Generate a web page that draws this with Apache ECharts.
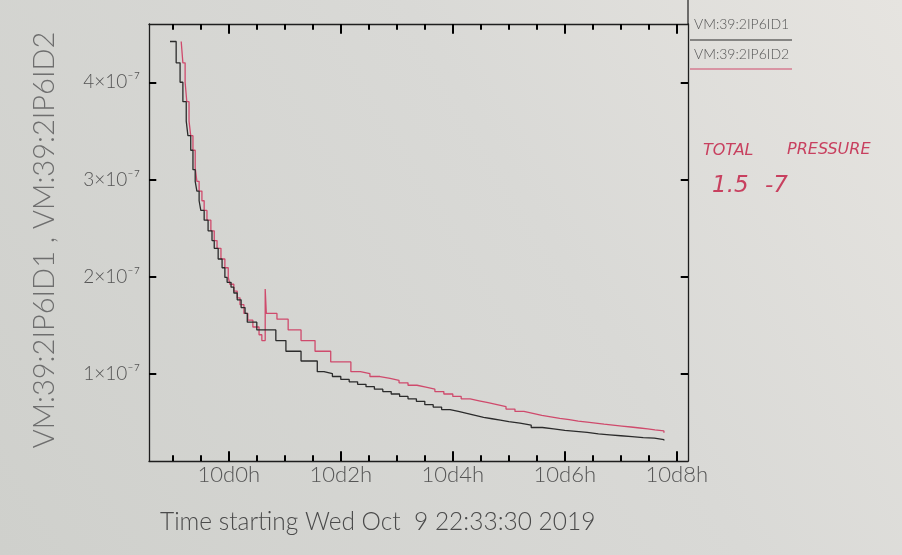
<!DOCTYPE html>
<html>
<head>
<meta charset="utf-8">
<script src="https://cdn.jsdelivr.net/npm/echarts@6/dist/echarts.min.js"></script>
<style>html,body{margin:0;padding:0;background:#d8d8d5;}#c{width:902px;height:555px;}</style>
</head>
<body>
<div id="c"></div>
<script>
// Time in hours relative to 2019-10-10 00:00 (axis starts Wed Oct 9 22:33:30)
// Pressure values in units of 1e-7
const seriesNames = ['VM:39:2IP6ID1', 'VM:39:2IP6ID2'];

const d1Hours = [-1.05,-0.94,-0.87,-0.82,-0.76,-0.73,-0.68,-0.64,-0.60,-0.57,-0.53,-0.50,-0.44,-0.37,-0.30,-0.26,-0.19,-0.12,-0.07,-0.03,0.04,0.09,0.15,0.22,0.29,0.33,0.50,0.84,1.02,1.29,1.58,1.70,1.85,2.00,2.15,2.30,2.45,2.60,2.75,2.90,3.05,3.20,3.35,3.50,3.65,3.80,3.95,4.10,4.25,4.40,4.55,4.70,4.85,5.00,5.20,5.40,5.60,5.80,6.00,6.20,6.40,6.60,6.80,7.00,7.20,7.40,7.60,7.77];
const d1Values = [4.42,4.20,4.00,3.80,3.60,3.45,3.30,3.10,2.98,2.88,2.78,2.68,2.58,2.47,2.37,2.29,2.18,2.09,1.99,1.94,1.89,1.83,1.76,1.68,1.62,1.53,1.45,1.34,1.23,1.13,1.02,1.00,0.97,0.94,0.915,0.89,0.865,0.84,0.815,0.79,0.765,0.74,0.715,0.68,0.655,0.63,0.61,0.59,0.57,0.55,0.535,0.52,0.505,0.49,0.47,0.445,0.43,0.415,0.405,0.395,0.38,0.37,0.36,0.35,0.34,0.335,0.32,0.31];

const d2Hours = [-0.85,-0.82,-0.78,-0.75,-0.71,-0.68,-0.64,-0.60,-0.57,-0.53,-0.48,-0.44,-0.39,-0.32,-0.26,-0.21,-0.14,-0.07,-0.01,0.02,0.09,0.15,0.20,0.27,0.34,0.43,0.54,0.59,0.65,0.67,0.86,1.06,1.29,1.54,1.82,2.18,2.35,2.52,2.70,2.88,3.04,3.20,3.36,3.52,3.68,3.84,4.00,4.15,4.31,4.47,4.63,4.79,4.95,5.11,5.27,5.43,5.59,5.75,5.91,6.08,6.24,6.40,6.55,6.70,6.86,7.02,7.18,7.34,7.48,7.61,7.77];
const d2Values = [4.42,4.20,4.00,3.80,3.60,3.45,3.30,3.12,2.98,2.88,2.78,2.68,2.58,2.47,2.37,2.29,2.18,2.09,1.99,1.92,1.85,1.78,1.71,1.62,1.55,1.48,1.40,1.34,1.87,1.62,1.56,1.45,1.34,1.23,1.12,1.02,1.00,0.97,0.95,0.93,0.905,0.88,0.86,0.84,0.815,0.79,0.765,0.74,0.72,0.70,0.68,0.66,0.635,0.61,0.59,0.57,0.555,0.54,0.525,0.51,0.50,0.49,0.48,0.47,0.46,0.45,0.44,0.43,0.42,0.41,0.39];

const xMajorTicks = [0, 2, 4, 6, 8];
const xMinorTicks = [-1,-0.5,0.5,1,1.5,2.5,3,3.5,4.5,5,5.5,6.5,7,7.5];
const yTicks = [1, 2, 3, 4];
const xTitle = 'Time starting Wed Oct  9 22:33:30 2019';
const yTitle = 'VM:39:2IP6ID1 , VM:39:2IP6ID2';

const X_MIN = -1.425, X_MAX = 8.2, Y_MIN = 0.1, Y_MAX = 4.6;
const axisCol = '#1e1e1e';
const labCol = '#555';
const FONT = 'Lato';

function pairs(h, v) { return h.map((t, i) => [t, v[i]]); }

const lineAxis = { show: true, onZero: false, lineStyle: { color: axisCol, width: 1.3 } };

// tick marks as short markLine segments in data coordinates (drawn by the library's scales)
const xTickLen = 0.1, xMinorLen = 0.06, yTickLen = 0.13;
function tickLines() {
  const segs = [];
  xMajorTicks.forEach(v => {
    segs.push([{ coord: [v, Y_MIN] }, { coord: [v, Y_MIN + xTickLen] }]);
    segs.push([{ coord: [v, Y_MAX] }, { coord: [v, Y_MAX - xTickLen] }]);
  });
  xMinorTicks.forEach(v => {
    segs.push([{ coord: [v, Y_MIN] }, { coord: [v, Y_MIN + xMinorLen] }]);
    segs.push([{ coord: [v, Y_MAX] }, { coord: [v, Y_MAX - xMinorLen] }]);
  });
  yTicks.forEach(v => {
    segs.push([{ coord: [X_MIN, v] }, { coord: [X_MIN + yTickLen, v] }]);
    segs.push([{ coord: [X_MAX, v] }, { coord: [X_MAX - yTickLen, v] }]);
  });
  return segs;
}

const staticGraphic = [
  { type: 'text', x: 45, y: 240, rotation: Math.PI / 2,
    style: { text: yTitle, fill: '#6e6e6e', fontFamily: FONT, fontWeight: 300, fontSize: 29, align: 'center', verticalAlign: 'middle' } },
  { type: 'text', x: 160, y: 522,
    style: { text: xTitle, fill: '#4a4a4a', fontFamily: FONT, fontWeight: 300, fontSize: 24.5, align: 'left', verticalAlign: 'middle' } },
  { type: 'line', shape: { x1: 688, y1: 0, x2: 688, y2: 24 }, style: { stroke: axisCol, lineWidth: 1.2 } },
  { type: 'text', x: 694, y: 24,
    style: { text: seriesNames[0], fill: '#555', fontFamily: FONT, fontWeight: 300, fontSize: 14, align: 'left', verticalAlign: 'middle' } },
  { type: 'line', shape: { x1: 690, y1: 40, x2: 792, y2: 40 }, style: { stroke: '#2b2b2b', lineWidth: 1.2 } },
  { type: 'text', x: 694, y: 54,
    style: { text: seriesNames[1], fill: '#555', fontFamily: FONT, fontWeight: 300, fontSize: 14, align: 'left', verticalAlign: 'middle' } },
  { type: 'line', shape: { x1: 690, y1: 69, x2: 792, y2: 69 }, style: { stroke: '#cf4a6c', lineWidth: 1.2 } },
  { type: 'text', x: 703, y: 151,
    style: { text: 'TOTAL', fill: '#c8405f', fontFamily: 'DejaVu Sans', fontStyle: 'italic', fontSize: 16, align: 'left', verticalAlign: 'middle' } },
  { type: 'text', x: 787, y: 150,
    style: { text: 'PRESSURE', fill: '#c8405f', fontFamily: 'DejaVu Sans', fontStyle: 'italic', fontSize: 16, align: 'left', verticalAlign: 'middle' } },
  { type: 'text', x: 712, y: 186,
    style: { text: '1.5', fill: '#c8405f', fontFamily: 'DejaVu Sans', fontStyle: 'italic', fontSize: 23, align: 'left', verticalAlign: 'middle' } },
  { type: 'text', x: 765, y: 186,
    style: { text: '-7', fill: '#c8405f', fontFamily: 'DejaVu Sans', fontStyle: 'italic', fontSize: 23, align: 'left', verticalAlign: 'middle' } }
];

const chart = echarts.init(document.getElementById('c'), null, { renderer: 'canvas' });
chart.setOption({
  animation: false,
  backgroundColor: {
    type: 'linear', x: 0, y: 1, x2: 1, y2: 0,
    colorStops: [{ offset: 0, color: '#cfd0cc' }, { offset: 0.6, color: '#d9d9d6' }, { offset: 1, color: '#e6e4e0' }]
  },
  grid: { left: 149, right: 214, top: 24, bottom: 94, containLabel: false, outerBoundsMode: 'none' },
  xAxis: [
    { type: 'value', position: 'bottom', min: X_MIN, max: X_MAX, axisLine: lineAxis, axisTick: { show: false }, splitLine: { show: false },
      axisLabel: { show: true, customValues: xMajorTicks, margin: 3, formatter: v => '10d' + v + 'h',
        color: labCol, fontFamily: FONT, fontWeight: 300, fontSize: 22 } },
    { type: 'value', position: 'top', min: X_MIN, max: X_MAX, axisLine: lineAxis, axisTick: { show: false }, splitLine: { show: false }, axisLabel: { show: false } }
  ],
  yAxis: [
    { type: 'value', position: 'left', min: Y_MIN, max: Y_MAX, axisLine: lineAxis, axisTick: { show: false }, splitLine: { show: false },
      axisLabel: { show: true, customValues: yTicks, margin: 9, formatter: v => v + '×10⁻⁷',
        color: labCol, fontFamily: FONT, fontWeight: 300, fontSize: 19 } },
    { type: 'value', position: 'right', min: Y_MIN, max: Y_MAX, axisLine: lineAxis, axisTick: { show: false }, splitLine: { show: false }, axisLabel: { show: false } }
  ],
  series: [
    {
      name: seriesNames[0], type: 'line', step: 'end', showSymbol: false, xAxisIndex: 0, yAxisIndex: 0,
      data: pairs(d1Hours, d1Values), lineStyle: { color: '#2b2b2b', width: 1.3 }, z: 3,
      markLine: {
        silent: true, symbol: ['none', 'none'], animation: false,
        label: { show: false },
        lineStyle: { color: '#000', width: 2, type: 'solid' },
        emphasis: { disabled: true },
        data: tickLines()
      }
    },
    {
      name: seriesNames[1], type: 'line', step: 'end', showSymbol: false, xAxisIndex: 0, yAxisIndex: 0,
      data: pairs(d2Hours, d2Values), lineStyle: { color: '#cf4a6c', width: 1.3 }, z: 2
    }
  ],
  graphic: staticGraphic
});
</script>
</body>
</html>
